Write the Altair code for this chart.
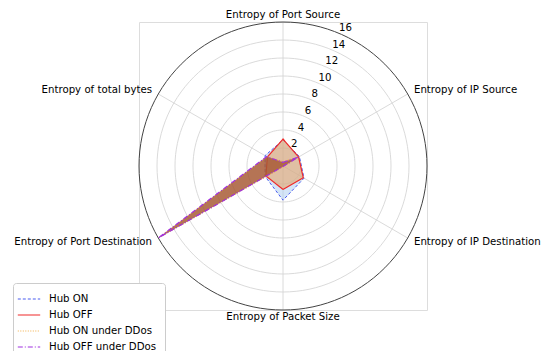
import altair as alt
import pandas as pd

categories = ["Entropy of Port Source", "Entropy of IP Source", "Entropy of IP Destination",
              "Entropy of Packet Size", "Entropy of Port Destination", "Entropy of total bytes"]
series_names = ["Hub ON", "Hub OFF", "Hub ON under DDos", "Hub OFF under DDos"]
hub_on = [2.9, 2.1, 2.7, 3.8, 2.3, 2.3]
hub_off = [3.0, 2.0, 2.6, 2.6, 2.2, 2.0]
hub_on_ddos = [0.5, 1.9, 0.1, 0.1, 15.9, 2.0]
hub_off_ddos = [0.4, 2.0, 0.05, 0.05, 16.0, 2.1]
radial_ticks = [2, 4, 6, 8, 10, 12, 14, 16]
r_max = 16

FONT = "DejaVu Sans"
FS = 10.2

rows = []
for name, vals in zip(series_names, [hub_on, hub_off, hub_on_ddos, hub_off_ddos]):
    for i, (c, v) in enumerate(zip(categories, vals)):
        rows.append({"series": name, "category": c, "idx": i, "value": v})
data = pd.DataFrame(rows)

cats = pd.DataFrame({"category": categories, "idx": list(range(len(categories)))})
ring_deg = list(range(0, 361, 3))
rings = pd.DataFrame([{"r": r, "deg": d} for r in radial_ticks + [r_max] for d in ring_deg])
ticks_df = pd.DataFrame({"v": radial_ticks, "label": [str(t) for t in radial_ticks]})

sx = alt.Scale(domain=[-r_max, r_max])
sy = alt.Scale(domain=[-r_max, r_max])
X = alt.X("x:Q", scale=sx, axis=None)
Y = alt.Y("y:Q", scale=sy, axis=None)

theta_expr = "PI/2 - datum.idx*PI/3"

grid = alt.Chart(rings).transform_filter(alt.datum.r < r_max).transform_calculate(
    x="datum.r*cos(datum.deg*PI/180)", y="datum.r*sin(datum.deg*PI/180)"
).mark_line(color="#d6d6d6", strokeWidth=0.9).encode(x=X, y=Y, detail="r:N", order="deg:Q")

outer = alt.Chart(rings).transform_filter(alt.datum.r == r_max).transform_calculate(
    x="datum.r*cos(datum.deg*PI/180)", y="datum.r*sin(datum.deg*PI/180)"
).mark_line(color="#444444", strokeWidth=1).encode(x=X, y=Y, order="deg:Q")

spokes = alt.Chart(cats).transform_calculate(
    theta=theta_expr, x="0", y="0",
    x2=f"{r_max}*cos(datum.theta)", y2=f"{r_max}*sin(datum.theta)"
).mark_rule(color="#d6d6d6", strokeWidth=0.9).encode(x=X, y=Y, x2="x2:Q", y2="y2:Q")

color_scale = alt.Scale(domain=series_names, range=["#4a5cf0", "#f02a2a", "#f2b04a", "#a030e0"])
dash_scale = alt.Scale(domain=series_names, range=[[3, 2], [1, 0], [1, 1.5], [5, 2, 1, 2]])
leg = alt.Legend(title=None, orient="none", legendX=-126, legendY=261,
                 symbolType="M-1.6,0H1.6", symbolSize=196, symbolStrokeWidth=1.2,
                 labelFont=FONT, labelFontSize=FS, labelColor="black",
                 fillColor="white", strokeColor="#cccccc", padding=8,
                 cornerRadius=3, rowPadding=2, labelOffset=12)

fills = {
    "Hub ON": ("#b0d0f0", 0.55, 1.0),
    "Hub OFF": ("#eb9a50", 0.5, 1.2),
    "Hub ON under DDos": ("#c98050", 0.6, 1.2),
    "Hub OFF under DDos": ("#9a4a2a", 0.6, 1.2),
}

series_layers = []
for name in series_names:
    f, fo, sw = fills[name]
    series_layers.append(
        alt.Chart(data).transform_filter(alt.datum.series == name).transform_calculate(
            theta=theta_expr, x="datum.value*cos(datum.theta)", y="datum.value*sin(datum.theta)"
        ).mark_line(interpolate="linear-closed", fill=f, fillOpacity=fo, strokeWidth=sw).encode(
            x=X, y=Y, order="idx:Q",
            color=alt.Color("series:N", scale=color_scale, legend=leg),
            strokeDash=alt.StrokeDash("series:N", scale=dash_scale, legend=leg),
        )
    )

rlabels = alt.Chart(ticks_df).transform_calculate(
    x="datum.v*cos(67.5*PI/180)", y="datum.v*sin(67.5*PI/180)"
).mark_text(align="left", baseline="bottom", font=FONT, fontSize=FS, color="black", dx=1).encode(
    x=X, y=Y, text="label:N")

def cat_text(filter_expr, radius, **kw):
    return alt.Chart(cats).transform_calculate(
        theta=theta_expr, x=f"{radius}*cos(datum.theta)", y=f"{radius}*sin(datum.theta)",
        c="cos(datum.theta)", s="sin(datum.theta)"
    ).transform_filter(filter_expr).mark_text(font=FONT, fontSize=FS, color="black", **kw).encode(
        x=X, y=Y, text="category:N")

lab_right = cat_text("datum.c > 0.1", r_max * 1.05, align="left", baseline="middle")
lab_left = cat_text("datum.c < -0.1", r_max * 1.05, align="right", baseline="middle")
lab_top = cat_text("abs(datum.c) <= 0.1 && datum.s > 0", r_max, align="center", baseline="bottom", dy=-2)
lab_bottom = cat_text("abs(datum.c) <= 0.1 && datum.s < 0", r_max, align="center", baseline="top", dy=2)

chart = alt.layer(grid, spokes, outer, *series_layers, rlabels, lab_right, lab_left, lab_top, lab_bottom).properties(
    width=288, height=288,
    padding={"left": 131, "top": 14, "right": 115, "bottom": 41},
    autosize=alt.AutoSizeParams(type="none"),
).configure_view(stroke=None).configure(font=FONT)

chart.save("out.html", embed_options={"renderer": "svg", "actions": False})
